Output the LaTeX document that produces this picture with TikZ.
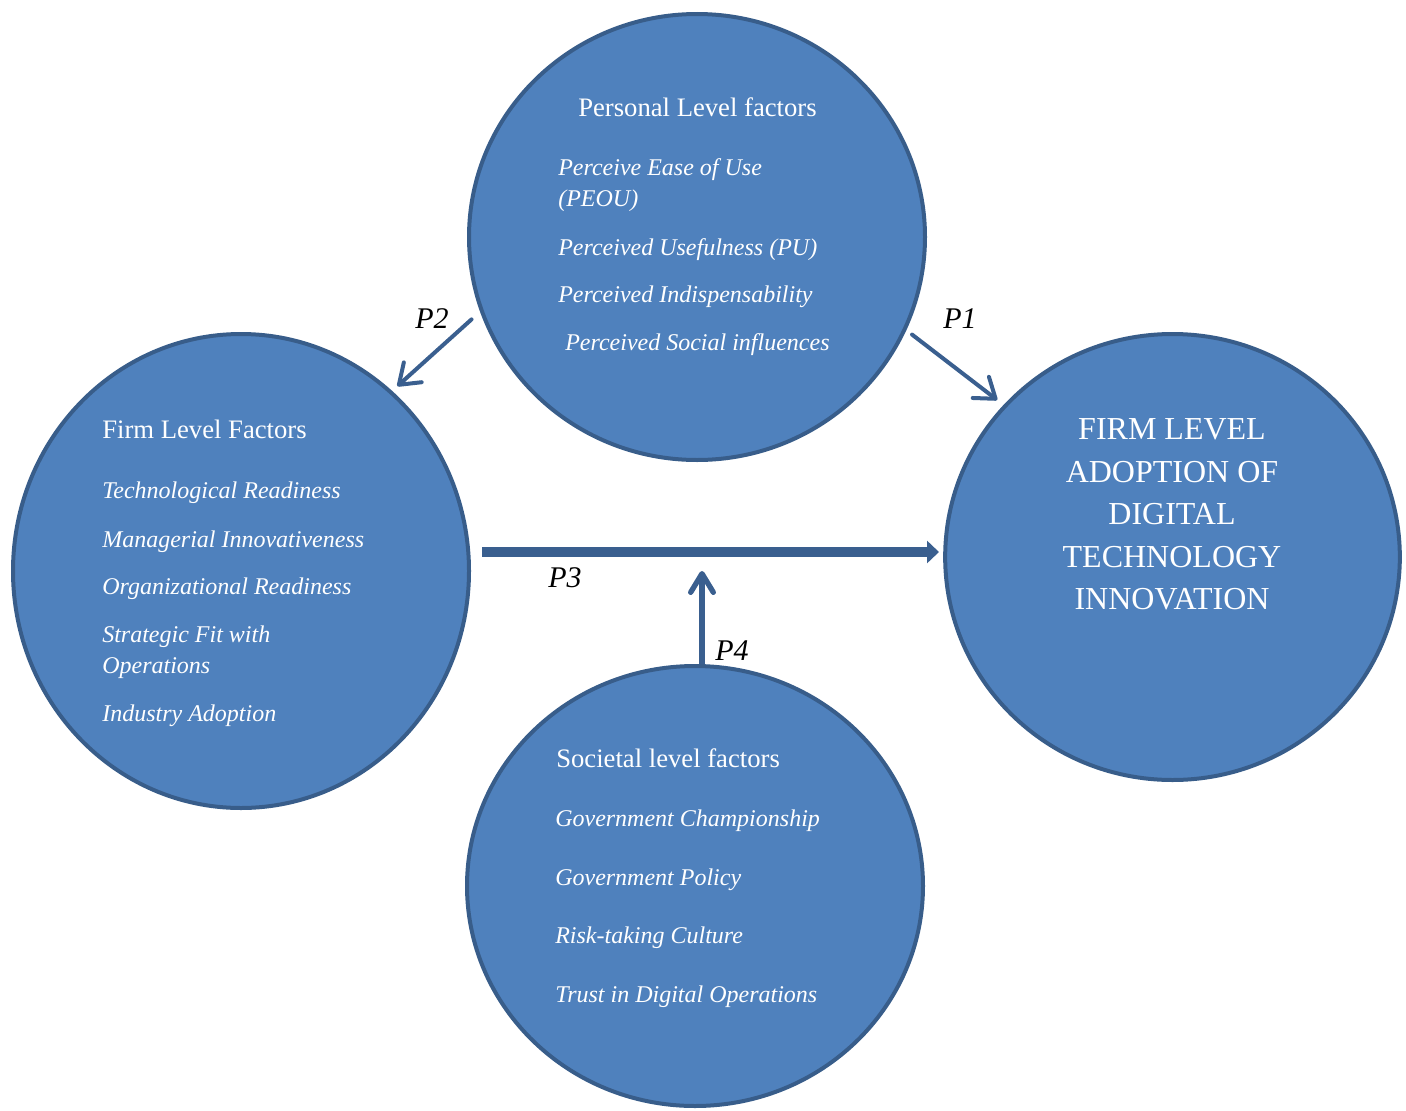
\documentclass[tikz,border=0pt]{standalone}
\usepackage{fontspec}
\setmainfont{Liberation Serif}
\usetikzlibrary{shapes.geometric,arrows.meta}
\definecolor{cfill}{HTML}{4F81BD}
\definecolor{cline}{HTML}{385D8A}
\definecolor{carr}{HTML}{3A5F8F}
\begin{document}
\begin{tikzpicture}[x=0.75pt,y=-0.75pt,
  bubble/.style={ellipse,draw=cline,line width=3pt,fill=cfill,inner sep=0pt},
  head/.style={anchor=base west,inner sep=0pt,text=white,font=\fontsize{20}{24}\selectfont},
  item/.style={anchor=base west,inner sep=0pt,text=white,font=\fontsize{18}{23}\selectfont\itshape},
  bigtxt/.style={anchor=base,inner sep=0pt,text=white,font=\fontsize{24}{28}\selectfont},
  plabel/.style={anchor=base west,inner sep=0pt,font=\fontsize{22.5}{27}\selectfont\itshape},
  thinarrow/.style={draw=carr,line width=3pt,line cap=round,-{Straight Barb[round,length=14pt,width=20pt]}},
  midarrow/.style={draw=carr,line width=4pt,-{Straight Barb[round,length=14pt,width=17pt]}},
  thickarrow/.style={draw=carr,line width=7.5pt,-{Triangle[length=9pt,width=16.5pt]}},
]
\useasboundingbox (0,0) rectangle (1406,1110);

% circles
\node[bubble,minimum width=342pt,minimum height=334.5pt] (top) at (697,237) {};
\node[bubble,minimum width=342pt,minimum height=355.5pt] (left) at (241,571) {};
\node[bubble,minimum width=341pt,minimum height=334.5pt] (right) at (1172.5,557) {};
\node[bubble,minimum width=342pt,minimum height=330pt] (bottom) at (695,886) {};

% personal level
\node[head] (tp0) at (578,116) {Personal Level factors};
\node[item] (tp1) at (558,175) {Perceive Ease of Use};
\node[item] (tp1b) at (558,206) {(PEOU)};
\node[item] (tp2) at (558,255) {Perceived Usefulness (PU)};
\node[item] (tp3) at (558,302) {Perceived Indispensability};
\node[item] (tp4) at (565,350) {Perceived Social influences};

% firm level
\node[head] (lf0) at (102,438) {Firm Level Factors};
\node[item] (lf1) at (102,498) {Technological Readiness};
\node[item] (lf2) at (102,547) {Managerial Innovativeness};
\node[item] (lf3) at (102,594) {Organizational Readiness};
\node[item] (lf4) at (102,642) {Strategic Fit with};
\node[item] (lf4b) at (102,673) {Operations};
\node[item] (lf5) at (102,721) {Industry Adoption};

% outcome
\node[bigtxt] (r1) at (1172,439) {FIRM LEVEL};
\node[bigtxt] (r2) at (1172,482) {ADOPTION OF};
\node[bigtxt] (r3) at (1172,524) {DIGITAL};
\node[bigtxt] (r4) at (1172,567) {TECHNOLOGY};
\node[bigtxt] (r5) at (1172,609) {INNOVATION};

% societal level
\node[head] (sb0) at (556,767) {Societal level factors};
\node[item] (sb1) at (555,826) {Government Championship};
\node[item] (sb2) at (555,885) {Government Policy};
\node[item] (sb3) at (555,943) {Risk-taking Culture};
\node[item] (sb4) at (555,1002) {Trust in Digital Operations};

% connectors
\draw[thinarrow,shorten <=8.6pt,shorten >=5.3pt] (top.-161.1) -- (left.50.9);
\draw[thinarrow,shorten <=5.4pt,shorten >=6pt] (top.-24) -- (right.138.2);
\coordinate (p3s) at (482,552);
\coordinate (p3e) at (939,552);
\draw[thickarrow] (p3s) -- (p3e);
\coordinate (p4tip) at (702,571);
\draw[midarrow] (bottom.north -| p4tip) -- (p4tip);

% labels
\node[plabel] (lp2) at (415,328) {P2};
\node[plabel] (lp1) at (943,328) {P1};
\node[plabel] (lp3) at (548,587) {P3};
\node[plabel] (lp4) at (715,660) {P4};
\end{tikzpicture}
\end{document}
